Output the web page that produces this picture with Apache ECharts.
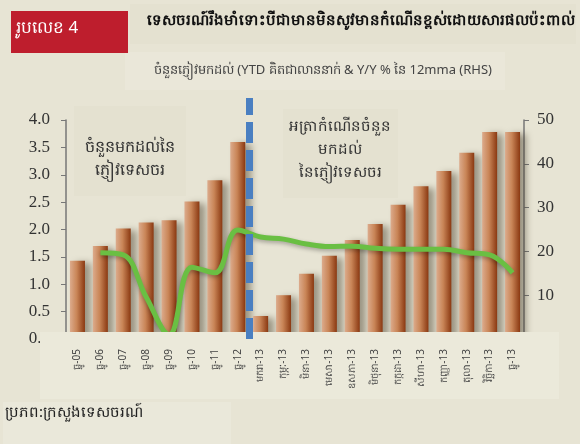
<!DOCTYPE html>
<html>
<head>
<meta charset="utf-8">
<script src="https://cdn.jsdelivr.net/npm/echarts@6/dist/echarts.min.js"></script>
<style>
  html, body { margin: 0; padding: 0; background: #e7e4d4; }
  #chart { width: 580px; height: 444px; }
</style>
</head>
<body>
<div id="chart"></div>
<script>
// ខែ (categories)
var months = ['ធ្នូ-05', 'ធ្នូ-06', 'ធ្នូ-07', 'ធ្នូ-08', 'ធ្នូ-09', 'ធ្នូ-10', 'ធ្នូ-11', 'ធ្នូ-12',
  'មករា-13', 'កុម្ភៈ-13', 'មិនា-13', 'មេសា-13', 'ឧសភា-13', 'មិថុនា-13', 'កក្កដា-13',
  'សីហា-13', 'កញ្ញា-13', 'តុលា-13', 'វិច្ឆិកា-13', 'ធ្នូ-13'];
// arrivals YTD, million
var arrivals = [1.43, 1.70, 2.02, 2.13, 2.17, 2.51, 2.90, 3.60,
  0.42, 0.80, 1.19, 1.52, 1.81, 2.10, 2.45, 2.79, 3.07, 3.40, 3.78, 3.78];
// y/y % of 12mma (RHS)
var growth = ['-', 19.7, 19.2, 9.6, 1.0, 16.4, 15.1, 24.9,
  23.3, 22.8, 21.7, 21.1, 21.2, 20.7, 20.5, 20.5, 20.5, 19.7, 19.2, 15.1];
var leftTicks = [0, 4, 0.5];
var rightTicks = [0, 50, 10];
var breakAt = 7.5; // between ធ្នូ-12 and មករា-13

var myChart = echarts.init(document.getElementById('chart'));

var khmer = '"Noto Sans", "DejaVu Sans", sans-serif';
var serif = '"Liberation Serif", "DejaVu Serif", serif';

var option = {
  backgroundColor: '#e7e4d4',
  animation: false,
  graphic: [
    // header panels
    { type: 'rect', z: 0, shape: { x: 130, y: 4, width: 446, height: 40 }, style: { fill: '#e4e1d0' } },
    { type: 'rect', z: 0, shape: { x: 125, y: 52, width: 380, height: 38 }, style: { fill: '#eae7d9' } },
    { type: 'rect', z: 1, shape: { x: 11, y: 11, width: 117, height: 42 }, style: { fill: '#be1e2d' } },
    { type: 'text', z: 2, style: { x: 16, y: 28, text: 'រូបលេខ 4', fill: '#fff', font: '17px ' + khmer, verticalAlign: 'middle' } },
    { type: 'text', z: 2, style: { x: 147, y: 21, text: 'ទេសចរណ៍រឹងមាំទោះបីជាមានមិនសូវមានកំណើនខ្ពស់ដោយសារផលប៉ះពាល់', fill: '#111', font: 'bold 15px ' + khmer, verticalAlign: 'middle' } },
    { type: 'text', z: 2, style: { x: 323, y: 70, text: 'ចំនួនភ្ញៀវមកដល់ (YTD គិតជាលាននាក់ & Y/Y % នៃ 12mma (RHS)', fill: '#444', font: '13px ' + khmer, align: 'center', verticalAlign: 'middle' } },
    // inner text boxes
    { type: 'rect', z: 1, shape: { x: 74, y: 106, width: 112, height: 90 }, style: { fill: '#e4e1d0' } },
    { type: 'text', z: 2, style: { x: 130, y: 159, text: 'ចំនួនមកដល់នៃ\nភ្ញៀវទេសចរ', fill: '#333', font: '16px ' + khmer, align: 'center', verticalAlign: 'middle', lineHeight: 23 } },
    { type: 'rect', z: 1, shape: { x: 283, y: 109, width: 115, height: 89 }, style: { fill: '#e4e1d0' } },
    { type: 'text', z: 2, style: { x: 340, y: 150, text: 'អត្រាកំណើនចំនួន\nមកដល់\nនៃភ្ញៀវទេសចរ', fill: '#333', font: '15px ' + khmer, align: 'center', verticalAlign: 'middle', lineHeight: 23 } },
    // category label band covers bar feet
    { type: 'rect', z: 5, shape: { x: 40, y: 332, width: 519, height: 67 }, style: { fill: '#ebe9da' } },
    // footer
    { type: 'rect', z: 0, shape: { x: 3, y: 402, width: 228, height: 42 }, style: { fill: '#eae8da' } },
    { type: 'text', z: 2, style: { x: 5, y: 413, text: 'ប្រភព:ក្រសួងទេសចរណ៍', fill: '#222', font: '15px ' + khmer, verticalAlign: 'middle' } }
  ],
  grid: [
    { left: 66, right: 56, top: 120, bottom: 105 },
    // taller grid only for the dashed divider
    { left: 66, right: 56, top: 98, bottom: 105 }
  ],
  xAxis: [
    {
      type: 'category',
      data: months,
      gridIndex: 0,
      z: 10,
      axisLine: { show: false },
      axisTick: { show: false },
      axisLabel: { rotate: 90, interval: 0, color: '#444', fontSize: 10, fontFamily: khmer, margin: 10 }
    },
    { type: 'value', gridIndex: 1, min: -0.5, max: months.length - 0.5, show: false }
  ],
  yAxis: [
    {
      type: 'value', gridIndex: 0, min: leftTicks[0], max: leftTicks[1], interval: leftTicks[2],
      splitLine: { show: false },
      axisLine: { show: true, lineStyle: { color: '#777', width: 1.5 } },
      axisTick: { show: true, length: 5, lineStyle: { color: '#777' } },
      axisLabel: { color: '#333', fontSize: 17, fontFamily: serif, margin: 16,
        formatter: function (v) { return v.toFixed(1); } }
    },
    {
      type: 'value', gridIndex: 0, min: rightTicks[0], max: rightTicks[1], interval: rightTicks[2],
      splitLine: { show: false },
      axisLine: { show: true, lineStyle: { color: '#777', width: 1.5 } },
      axisTick: { show: true, length: 5, lineStyle: { color: '#777' } },
      axisLabel: { color: '#333', fontSize: 17, fontFamily: serif, margin: 13,
        formatter: function (v) { return v === 0 ? '' : v; } }
    },
    { type: 'value', gridIndex: 1, min: 0, max: 1, show: false }
  ],
  series: [
    {
      name: 'ចំនួនមកដល់',
      type: 'bar',
      data: arrivals,
      barWidth: 15,
      z: 2,
      itemStyle: {
        color: new echarts.graphic.LinearGradient(0, 0, 1, 0, [
          { offset: 0, color: '#dcab8c' },
          { offset: 0.45, color: '#c98557' },
          { offset: 1, color: '#8a3811' }
        ]),
        shadowColor: 'rgba(60,50,30,0.45)',
        shadowBlur: 7,
        shadowOffsetX: 6,
        shadowOffsetY: 2
      }
    },
    {
      name: 'អត្រាកំណើន',
      type: 'line',
      yAxisIndex: 1,
      data: growth,
      smooth: 0.4,
      showSymbol: false,
      z: 3,
      lineStyle: { color: '#6abf43', width: 5, shadowColor: 'rgba(0,0,0,0.3)', shadowBlur: 4, shadowOffsetY: 2 }
    },
    {
      name: 'divider',
      type: 'line',
      xAxisIndex: 1,
      yAxisIndex: 2,
      data: [],
      z: 4,
      markLine: {
        silent: true,
        symbol: 'none',
        label: { show: false },
        lineStyle: { color: '#4a7fc1', width: 7, type: [21, 7], opacity: 1 },
        data: [{ xAxis: breakAt }]
      }
    }
  ]
};
myChart.setOption(option);
</script>
</body>
</html>
